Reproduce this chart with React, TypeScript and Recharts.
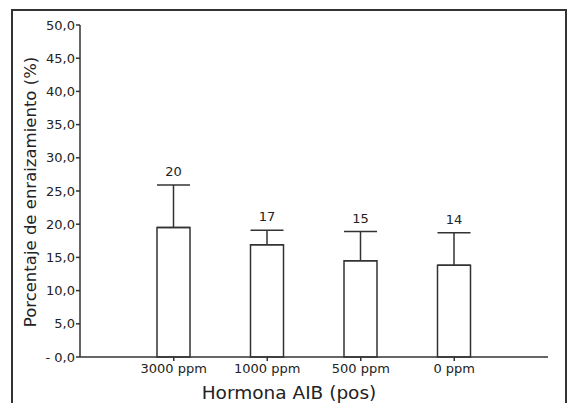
import { BarChart, Bar, XAxis, YAxis, ErrorBar, LabelList } from 'recharts';

const categories = ['3000 ppm', '1000 ppm', '500 ppm', '0 ppm'];
const means = [19.5, 16.9, 14.5, 13.8];
const errors = [6.4, 2.2, 4.4, 4.9];
const topLabels = ['20', '17', '15', '14'];
const yTicks = [0, 5, 10, 15, 20, 25, 30, 35, 40, 45, 50];

const data = categories.map((name, i) => ({
  name,
  value: means[i],
  err: [0, errors[i]],
  label: topLabels[i],
}));

const INK = '#333';
const FONT = '"DejaVu Sans", sans-serif';

function formatY(v: number): string {
  const s = v.toFixed(1).replace('.', ',');
  return v === 0 ? `- ${s}` : s;
}

function TopLabel(props: any) {
  const vb = props.viewBox ?? props;
  const { x, y, width, height } = vb;
  const i = props.index;
  if (i == null || !means[i]) return null;
  const errPx = (errors[i] * height) / means[i];
  return (
    <text
      x={x + width / 2}
      y={y - errPx - 9}
      textAnchor="middle"
      fontSize={13}
      fontFamily={FONT}
      fill="#222"
    >
      {props.value}
    </text>
  );
}

function YTitle(props: any) {
  const vb = props.viewBox;
  const cx = vb.x + 10;
  const cy = vb.y + vb.height / 2 + 1;
  return (
    <text
      x={cx}
      y={cy}
      transform={`rotate(-90 ${cx} ${cy})`}
      textAnchor="middle"
      dominantBaseline="central"
      fontSize={16.5}
      fontFamily={FONT}
      fill="#222"
    >
      Porcentaje de enraizamiento (%)
    </text>
  );
}

function XTitle(props: any) {
  const vb = props.viewBox;
  return (
    <text
      x={vb.x + vb.width / 2 - 25}
      y={vb.y + 42}
      textAnchor="middle"
      fontSize={18.5}
      fontFamily={FONT}
      fill="#222"
    >
      Hormona AIB (pos)
    </text>
  );
}

export default function App() {
  return (
    <div
      style={{
        position: 'absolute',
        left: 0,
        top: 0,
        width: 571,
        height: 403,
        overflow: 'hidden',
        background: '#fff',
      }}
    >
      <div
        style={{
          position: 'absolute',
          left: 11,
          top: 9,
          width: 556,
          height: 430,
          border: `2px solid ${INK}`,
          boxSizing: 'border-box',
        }}
      />
      <div style={{ position: 'absolute', left: 0, top: 0 }}>
        <BarChart
          width={571}
          height={403}
          data={data}
          margin={{ top: 25, right: 23, bottom: 0, left: 20 }}
          barSize={33}
        >
          <XAxis
            dataKey="name"
            height={46}
            padding={{ left: 47, right: 47 }}
            tickSize={4}
            tickMargin={3}
            axisLine={{ stroke: INK, strokeWidth: 1.5 }}
            tickLine={{ stroke: INK, strokeWidth: 1.5 }}
            tick={{ fontSize: 13, fontFamily: FONT, fill: '#222' }}
            label={{ content: XTitle }}
          />
          <YAxis
            width={60}
            domain={[0, 50]}
            ticks={yTicks}
            interval={0}
            tickFormatter={formatY}
            tickSize={4}
            tickMargin={1}
            axisLine={{ stroke: INK, strokeWidth: 1.5 }}
            tickLine={{ stroke: INK, strokeWidth: 1.5 }}
            tick={{ fontSize: 13, fontFamily: FONT, fill: '#222' }}
            label={{ content: YTitle }}
          />
          <Bar
            dataKey="value"
            fill="#fff"
            stroke={INK}
            strokeWidth={1.5}
            isAnimationActive={false}
          >
            <ErrorBar
              dataKey="err"
              direction="y"
              width={16.5}
              stroke={INK}
              strokeWidth={1.5}
              isAnimationActive={false}
            />
            <LabelList dataKey="label" content={TopLabel} />
          </Bar>
        </BarChart>
      </div>
    </div>
  );
}
